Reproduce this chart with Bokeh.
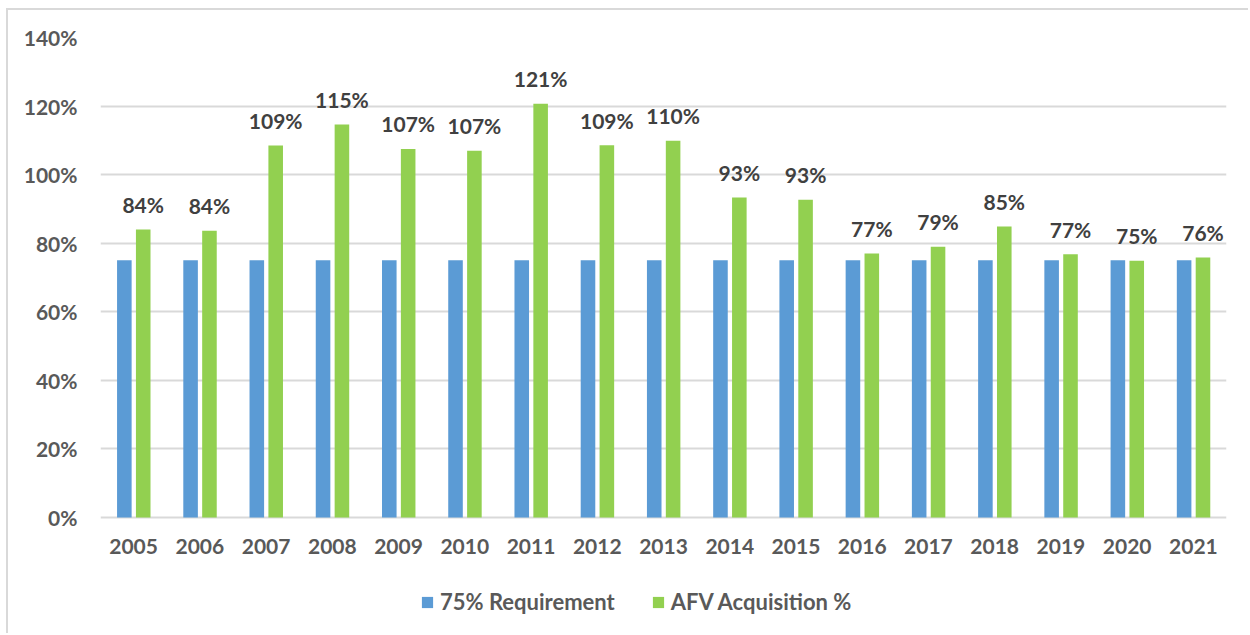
from bokeh.plotting import figure
from bokeh.models import ColumnDataSource, FactorRange, Range1d, Legend, LegendItem, FixedTicker
from bokeh.transform import dodge
from bokeh.core.properties import value
from bokeh.embed import file_html
from bokeh.resources import INLINE

years = ["2005", "2006", "2007", "2008", "2009", "2010", "2011", "2012", "2013",
         "2014", "2015", "2016", "2017", "2018", "2019", "2020", "2021"]
requirement = [75] * 17
acquisition = [84.0, 83.6, 108.5, 114.6, 107.5, 107.0, 120.7, 108.6, 109.9,
               93.3, 92.7, 77.0, 79.0, 84.9, 76.8, 74.9, 75.8]
acq_labels = ["84%", "84%", "109%", "115%", "107%", "107%", "121%", "109%", "110%",
              "93%", "93%", "77%", "79%", "85%", "77%", "75%", "76%"]
y_ticks = [0, 20, 40, 60, 80, 100, 120, 140]
y_tick_labels = {t: f"{t}%" for t in y_ticks}

src = ColumnDataSource(dict(year=years, req=requirement, acq=acquisition, lab=acq_labels))

FONT = "Lato"
FS = "21px"
# frame: 480 px for 0..140 -> extend below zero so the legend area lies in the frame
PX_PER_UNIT = 480 / 140
Y_MIN = -118 / PX_PER_UNIT

p = figure(x_range=FactorRange(*years), y_range=Range1d(Y_MIN, 140),
           width=1242, height=625, output_backend="svg", toolbar_location=None,
           min_border_left=92, min_border_right=24, min_border_top=27, min_border_bottom=0)
p.styles = {"margin-left": "6px", "margin-top": "8px",
            "border-top": "2px solid #d9d9d9", "border-left": "2px solid #d9d9d9"}
p.outline_line_color = None
p.x_range.range_padding = 0
p.x_range.group_padding = 0

r_req = p.vbar(x=dodge("year", -0.14, range=p.x_range), top="req", width=0.22, source=src,
               fill_color="#5b9bd5", line_color=None)
r_acq = p.vbar(x=dodge("year", 0.145, range=p.x_range), top="acq", width=0.22, source=src,
               fill_color="#92d050", line_color=None)

p.text(x=dodge("year", 0.145, range=p.x_range), y="acq", text="lab", source=src,
       text_align="center", text_baseline="alphabetic", y_offset=-25,
       text_font=value(FONT), text_font_style="bold", text_font_size=FS,
       text_color="#404040")

p.xgrid.grid_line_color = None
p.ygrid.grid_line_color = "#d9d9d9"
p.ygrid.grid_line_width = 2
p.yaxis.ticker = FixedTicker(ticks=y_ticks)
p.yaxis.major_label_overrides = y_tick_labels
p.xaxis.fixed_location = 0

for ax in (p.xaxis[0], p.yaxis[0]):
    ax.axis_line_color = None
    ax.major_tick_line_color = None
    ax.minor_tick_line_color = None
    ax.major_tick_out = 0
    ax.major_tick_in = 0
    ax.major_label_text_font = FONT
    ax.major_label_text_font_style = "bold"
    ax.major_label_text_font_size = FS
    ax.major_label_text_color = "#595959"
p.yaxis.major_label_standoff = 23
p.xaxis.major_label_standoff = 21

legend = Legend(items=[LegendItem(label="75% Requirement", renderers=[r_req]),
                       LegendItem(label="AFV Acquisition %", renderers=[r_acq])],
                orientation="horizontal", location=(320, 20),
                padding=0, margin=0, spacing=36, label_standoff=6,
                glyph_width=14, glyph_height=14,
                label_text_font=FONT, label_text_font_style="bold",
                label_text_font_size="22px", label_text_color="#595959",
                border_line_color=None, background_fill_alpha=0)
p.add_layout(legend, "center")

open("out.html", "w").write(file_html(p, INLINE))
